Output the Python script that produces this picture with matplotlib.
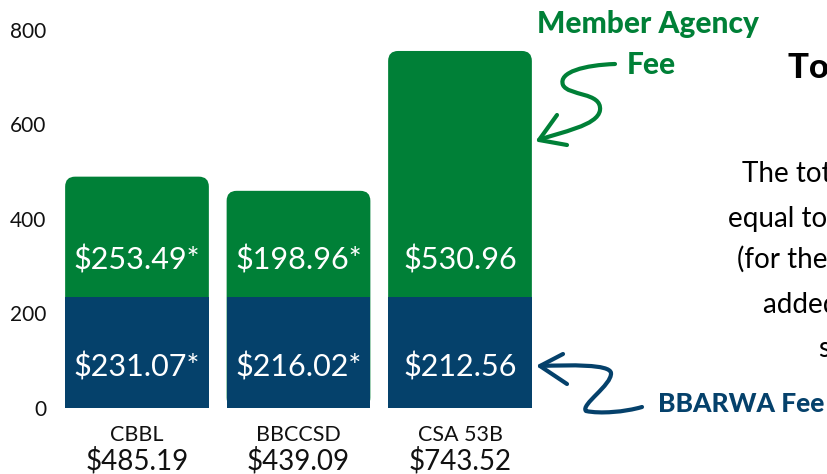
import matplotlib
matplotlib.use("Agg")
import matplotlib.pyplot as plt
from matplotlib.patches import FancyBboxPatch
from matplotlib.path import Path
from matplotlib.patches import PathPatch
import numpy as np

# ---- data ----
categories = ["CBBL", "BBCCSD", "CSA 53B"]
total_labels = ["$485.19", "$439.09", "$743.52"]
bbarwa_fee = [235, 235, 235]            # drawn height of navy segment
total_height = [489, 459, 755]          # drawn top of green segment
bbarwa_labels = ["$231.07*", "$216.02*", "$212.56"]
member_labels = ["$253.49*", "$198.96*", "$530.96"]
yticks = [0, 200, 400, 600, 800]

GREEN = "#008037"
NAVY = "#05416B"
FONT = "Lato"

W, H = 828, 474
fig = plt.figure(figsize=(W / 100, H / 100), dpi=100)
plt.rcParams["font.family"] = [FONT, "DejaVu Sans"]

def fx(x):
    return x / W

def fy(y):
    return 1 - y / H

ax = fig.add_axes([56.25 / W, (H - 407.7) / H, 484.5 / W, 378 / H])
x = np.arange(len(categories))
bw = 0.89
ax.set_xlim(-0.5, 2.5)
ax.set_ylim(0, 800)

# rounded green bars (full height, navy drawn over the lower part)
green_bars = ax.bar(x, total_height, width=bw, color=GREEN, zorder=1)
fig.canvas.draw()
px_per_x = ax.transData.transform((1, 0))[0] - ax.transData.transform((0, 0))[0]
px_per_y = ax.transData.transform((0, 1))[1] - ax.transData.transform((0, 0))[1]
aspect = px_per_x / px_per_y
r_px = 10
for b in green_bars:
    b.set_visible(False)
    p = FancyBboxPatch((b.get_x(), b.get_y()), b.get_width(), b.get_height(),
                       boxstyle=f"round,pad=0,rounding_size={r_px / px_per_x}",
                       mutation_aspect=aspect, facecolor=GREEN, edgecolor="none",
                       zorder=1)
    ax.add_patch(p)

ax.bar(x, bbarwa_fee, width=bw, color=NAVY, zorder=2)

for i in range(len(categories)):
    ax.text(x[i], 293, member_labels[i], color="white", fontsize=22,
            ha="center", va="baseline", zorder=3)
    ax.text(x[i], 65.6, bbarwa_labels[i], color="white", fontsize=22,
            ha="center", va="baseline", zorder=3)
    ax.annotate(categories[i], xy=(x[i], 0), xycoords=("data", "axes fraction"),
                xytext=(0, -33), textcoords="offset pixels", ha="center",
                va="baseline", fontsize=15.5, color="#111111")
    ax.annotate(total_labels[i], xy=(x[i], 0), xycoords=("data", "axes fraction"),
                xytext=(0, -62), textcoords="offset pixels", ha="center",
                va="baseline", fontsize=20, color="#111111")

ax.set_yticks(yticks)
ax.set_yticklabels([str(t) for t in yticks], fontsize=15, color="#111111")
ax.tick_params(axis="y", length=0, pad=7)
ax.set_xticks([])
for s in ax.spines.values():
    s.set_visible(False)

# ---- annotations ----
fig.text(fx(537), fy(33), "Member Agency", color=GREEN, fontsize=21.5,
         fontweight="black", va="baseline", ha="left")
fig.text(fx(627), fy(74), "Fee", color=GREEN, fontsize=21.5,
         fontweight="black", va="baseline", ha="left")
fig.text(fx(658), fy(412), "BBARWA Fee", color=NAVY, fontsize=19,
         fontweight="black", va="baseline", ha="left")
fig.text(fx(788), fy(78), "Total Fee", color="black", fontsize=25,
         fontweight="black", va="baseline", ha="left")
para = [(742, 181.7, "The total fee is"), (728, 227, "equal to the sum"),
        (737, 268, "(for the member"), (763, 313, "added to"),
        (818, 357, "shown")]
for px, py, t in para:
    fig.text(fx(px), fy(py), t, color="black", fontsize=20,
             va="baseline", ha="left")

def curve(pts, color):
    verts = [(fx(a), fy(b)) for a, b in pts]
    codes = [Path.MOVETO] + [Path.CURVE4] * (len(verts) - 1)
    fig.patches.append(PathPatch(Path(verts, codes), transform=fig.transFigure,
                                 fill=False, edgecolor=color, lw=3,
                                 capstyle="round", joinstyle="round"))

def poly(pts, color):
    fig.lines.append(plt.Line2D([fx(a) for a, b in pts], [fy(b) for a, b in pts],
                                transform=fig.transFigure, color=color, lw=3,
                                solid_capstyle="round", solid_joinstyle="round"))

curve([(615, 64), (585, 65), (558, 72), (563, 85),
       (568, 96), (602, 92), (600, 110),
       (598, 126), (560, 132), (539, 140)], GREEN)
poly([(557, 115), (539, 140), (567, 145)], GREEN)

curve([(642, 407), (625, 412), (600, 414), (586, 411),
       (580, 405), (612, 385), (611, 373),
       (610, 364), (570, 365), (540, 366)], NAVY)
poly([(563, 354), (540, 366), (567, 384)], NAVY)

fig.savefig("out.png", dpi=100)
